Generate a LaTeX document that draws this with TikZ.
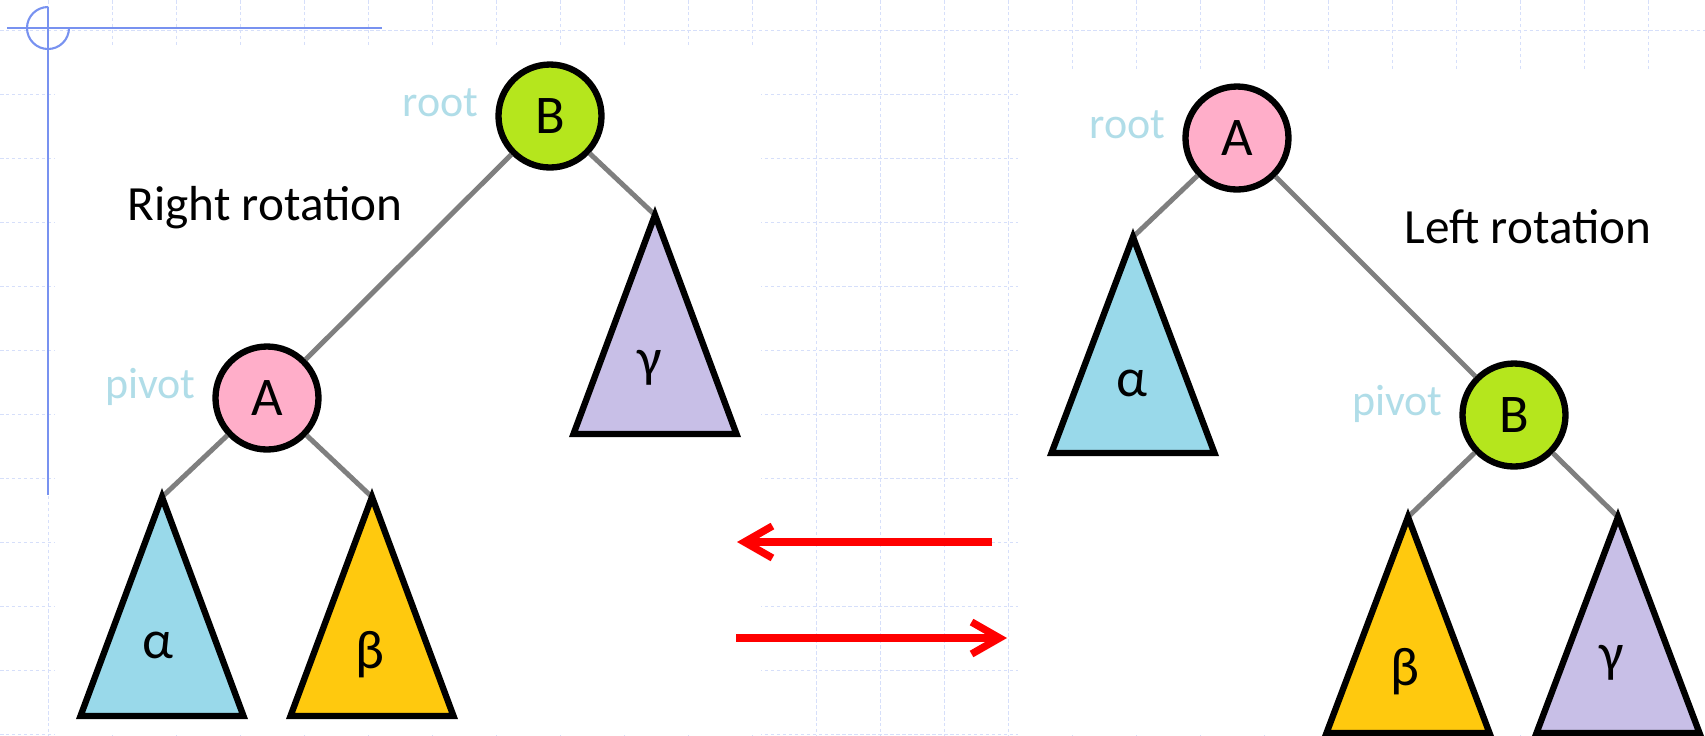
\documentclass[tikz,border=0pt]{standalone}
\usepackage{fontspec}
\setmainfont{Carlito}
\usetikzlibrary{arrows.meta,positioning,calc}

\definecolor{nodegreen}{RGB}{181,230,29}
\definecolor{nodepink}{RGB}{255,174,201}
\definecolor{subblue}{RGB}{153,217,234}
\definecolor{subgold}{RGB}{255,201,14}
\definecolor{sublilac}{RGB}{200,191,231}
\definecolor{linkgray}{RGB}{127,127,127}
\definecolor{tagblue}{RGB}{176,221,232}
\definecolor{gridblue}{RGB}{214,223,250}
\definecolor{guideblue}{RGB}{120,146,240}

\begin{document}
\begin{tikzpicture}[
    keynode/.style={draw, circle, line width=1.8pt, minimum size=1.03cm, inner sep=0pt, font=\fontsize{15.5}{18}\selectfont},
    tag/.style={text=tagblue, font=\fontsize{12.5}{15}\selectfont, anchor=base east, inner sep=0pt, xshift=-0.16cm},
    caption/.style={font=\fontsize{14}{17}\selectfont, anchor=base west, inner sep=0pt},
    subtree/.style={draw, line width=1.8pt},
    sym/.style={font=\fontsize{15.5}{18}\selectfont, inner sep=0pt},
    link/.style={draw=linkgray, line width=1.4pt},
    arr/.style={draw=red, line width=2.1pt, -{Straight Barb[length=2.8mm, width=3.2mm]}},
    gridline/.style={draw=gridblue, line width=0.25pt, dash pattern=on 1pt off 0.7pt},
    guide/.style={draw=guideblue, line width=0.6pt}
]
\useasboundingbox (0,0) rectangle (17.05,-7.35);

% slide background
\foreach \gx in {0,...,25}
    \draw[gridline] ({0.48+0.64*\gx},0) -- ++(0,-7.35);
\foreach \gy in {0,...,11}
    \draw[gridline] (0,{-0.30-0.64*\gy}) -- ++(17.05,0);
\fill[white] (0.55,-0.45) rectangle (7.61,-7.35);
\fill[white] (10.18,-0.70) rectangle (17.05,-7.35);
\draw[guide] (0.07,-0.28) -- (3.82,-0.28);
\draw[guide] (0.48,-0.07) -- (0.48,-4.95);
\draw[guide] (0.48,-0.07) arc[start angle=90, end angle=360, radius=0.21];

% before: right rotation
\node[keynode, fill=nodegreen] (B1) at (5.50,-1.16) {B};
\node[keynode, fill=nodepink] (A1) at (2.67,-3.98) {A};
\node[tag] (root1) at (B1.west) {root};
\node[tag] (pivot1) at (A1.west) {pivot};
\node[caption] (rr) at (1.27,-2.20) {Right rotation};
\coordinate (a1) at (1.62,-4.97);
\coordinate (b1) at (3.72,-4.97);
\coordinate (c1) at (6.55,-2.15);

\draw[link] (B1) -- (A1);
\draw[link] (B1) -- (c1);
\draw[link] (A1) -- (a1);
\draw[link] (A1) -- (b1);

\draw[subtree, fill=subblue] (a1) -- ++(-0.815,-2.19) -- ++(1.63,0) -- cycle;
\draw[subtree, fill=subgold] (b1) -- ++(-0.815,-2.19) -- ++(1.63,0) -- cycle;
\draw[subtree, fill=sublilac] (c1) -- ++(-0.815,-2.19) -- ++(1.63,0) -- cycle;
\node[sym] (a1l) at (1.58,-6.45) {α};
\node[sym] (b1l) at (3.70,-6.55) {β};
\node[sym] (c1l) at (6.50,-3.68) {γ};

% after: left rotation
\node[keynode, fill=nodepink] (A2) at (12.37,-1.38) {A};
\node[keynode, fill=nodegreen] (B2) at (15.14,-4.15) {B};
\node[tag] (root2) at (A2.west) {root};
\node[tag] (pivot2) at (B2.west) {pivot};
\node[caption] (lr) at (14.04,-2.43) {Left rotation};
\coordinate (a2) at (11.33,-2.37);
\coordinate (b2) at (14.08,-5.17);
\coordinate (c2) at (16.18,-5.17);

\draw[link] (A2) -- (a2);
\draw[link] (A2) -- (B2);
\draw[link] (B2) -- (b2);
\draw[link] (B2) -- (c2);

\draw[subtree, fill=subblue] (a2) -- ++(-0.815,-2.16) -- ++(1.63,0) -- cycle;
\draw[subtree, fill=subgold] (b2) -- ++(-0.815,-2.16) -- ++(1.63,0) -- cycle;
\draw[subtree, fill=sublilac] (c2) -- ++(-0.815,-2.16) -- ++(1.63,0) -- cycle;
\node[sym] (a2l) at (11.32,-3.83) {α};
\node[sym] (b2l) at (14.05,-6.72) {β};
\node[sym] (c2l) at (16.12,-6.63) {γ};

% rotation arrows
\coordinate (lt) at (9.92,-5.42);
\coordinate (lh) at (7.37,-5.42);
\coordinate (rt) at (7.36,-6.38);
\coordinate (rh) at (10.07,-6.38);
\draw[arr] (lt) -- (lh);
\draw[arr] (rt) -- (rh);
\end{tikzpicture}
\end{document}
